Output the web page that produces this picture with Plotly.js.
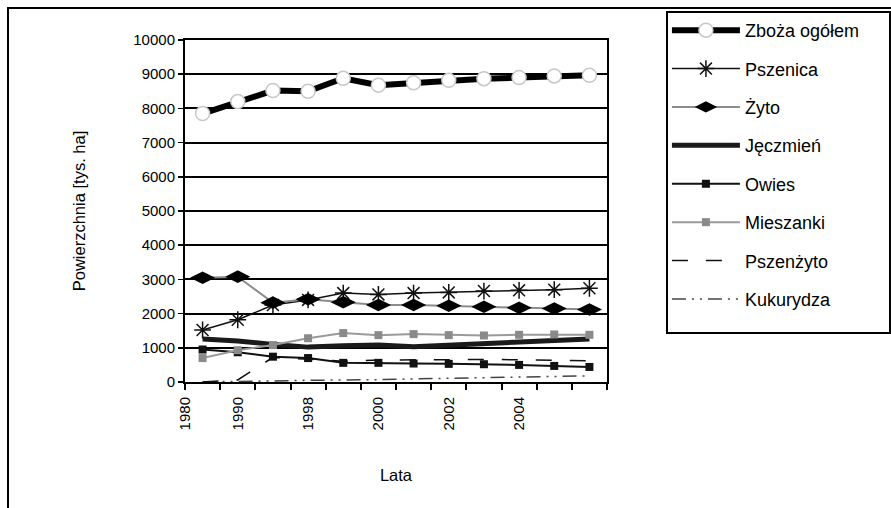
<!DOCTYPE html>
<html>
<head>
<meta charset="utf-8">
<script src="https://cdn.plot.ly/plotly-3.0.1.min.js"></script>
<style>html,body{margin:0;padding:0;background:#fff;}#chart{width:891px;height:508px;}</style>
</head>
<body>
<div id="chart"></div>
<script>
// point positions (category slots along the x axis)
const pointIndex = [1, 2, 3, 4, 5, 6, 7, 8, 9, 10, 11, 12];
// tick labels and the slots they sit at
const tickLabels = ["1980", "1990", "1998", "2000", "2002", "2004"];
const tickAt = [0.5, 2, 4, 6, 8, 10];
const slotEdges = [0.5, 1.5, 2.5, 3.5, 4.5, 5.5, 6.5, 7.5, 8.5, 9.5, 10.5, 11.5, 12.5];

// series values [tys. ha]
const zbozaOgolem = [7850, 8200, 8520, 8500, 8880, 8680, 8750, 8820, 8870, 8900, 8950, 8970];
const pszenica    = [1520, 1820, 2250, 2400, 2600, 2560, 2600, 2620, 2660, 2680, 2700, 2740];
const zyto        = [3050, 3080, 2320, 2420, 2330, 2250, 2250, 2230, 2200, 2170, 2150, 2120];
const jeczmien    = [1260, 1200, 1100, 1020, 1060, 1080, 1030, 1080, 1110, 1150, 1200, 1260];
const owies       = [950, 870, 740, 700, 560, 560, 540, 530, 520, 500, 470, 440];
const mieszanki   = [700, 930, 1080, 1280, 1430, 1370, 1400, 1370, 1360, 1380, 1390, 1380];
const pszenzyto   = [0, 60, 720, 660, 610, 640, 650, 660, 660, 650, 640, 620];
const kukurydza   = [5, 10, 30, 50, 50, 70, 90, 110, 130, 150, 170, 180];

const seriesNames = ["Zboża ogółem", "Pszenica", "Żyto", "Jęczmień", "Owies", "Mieszanki", "Pszenżyto", "Kukurydza"];

const traces = [
  {y: kukurydza, name: seriesNames[7], mode: 'lines', line: {color: '#444', width: 1.5, dash: '14px,6px,2px,6px,2px,6px'}},
  {y: pszenzyto, name: seriesNames[6], mode: 'lines', line: {color: '#111', width: 1.5, dash: '16px,18px'}},
  {y: owies, name: seriesNames[4], mode: 'lines+markers', line: {color: '#111', width: 2}, marker: {symbol: 'square', size: 8, color: '#111'}},
  {y: jeczmien, name: seriesNames[3], mode: 'lines', line: {color: '#1a1a1a', width: 5}},
  {y: mieszanki, name: seriesNames[5], mode: 'lines+markers', line: {color: '#9a9a9a', width: 2}, marker: {symbol: 'square', size: 8, color: '#8a8a8a'}},
  {y: pszenica, name: seriesNames[1], mode: 'lines+markers', line: {color: '#111', width: 1.5}, marker: {symbol: 'asterisk-open', size: 14, line: {color: '#111', width: 1.5}}},
  {y: zyto, name: seriesNames[2], mode: 'lines+markers', line: {color: '#8c8c8c', width: 2}, marker: {symbol: 'diamond-wide', size: 18, color: '#000'}},
  {y: zbozaOgolem, name: seriesNames[0], mode: 'lines+markers', line: {color: '#000', width: 6}, marker: {symbol: 'circle', size: 14, color: '#fff', line: {color: '#c8c8c8', width: 1.5}}}
];
const legendRank = {"Zboża ogółem":1, "Pszenica":2, "Żyto":3, "Jęczmień":4, "Owies":5, "Mieszanki":6, "Pszenżyto":7, "Kukurydza":8};
traces.forEach(t => {
  t.x = pointIndex;
  t.type = 'scatter';
  t.legendgroup = t.name;
  t.legendrank = legendRank[t.name];
});

const font = "'Liberation Sans', Arial, sans-serif";
const layout = {
  width: 891, height: 508,
  margin: {l: 185, r: 284, t: 40, b: 126},
  paper_bgcolor: '#fff', plot_bgcolor: '#fff',
  font: {family: font, color: '#000', size: 15},
  showlegend: true,
  legend: {
    x: 1.142, y: 1.082, xanchor: 'left', yanchor: 'top',
    bgcolor: 'rgba(0,0,0,0)', borderwidth: 0,
    font: {family: font, size: 18, color: '#000'},
    traceorder: 'grouped', tracegroupgap: 12, itemwidth: 68,
    maxheight: 420,
    itemclick: false
  },
  xaxis: {
    range: [0.5, 12.5], tickmode: 'array', tickvals: tickAt, ticktext: tickLabels,
    tickangle: -90, ticks: 'outside', ticklen: 7, tickcolor: 'rgba(0,0,0,0)',
    tickfont: {size: 15},
    minor: {tickmode: 'array', tickvals: slotEdges, ticks: 'outside', ticklen: 6, tickwidth: 2, tickcolor: '#000', showgrid: false},
    showgrid: false, zeroline: false, showline: true, linecolor: '#000', linewidth: 2, mirror: true,
    title: {text: 'Lata', font: {size: 16.5}, standoff: 40}
  },
  yaxis: {
    range: [0, 10000], dtick: 1000, tick0: 0, tickformat: 'd',
    ticks: 'outside', ticklen: 5, tickwidth: 1.5, tickcolor: '#000',
    showgrid: true, gridcolor: '#000', gridwidth: 2,
    zeroline: false, showline: true, linecolor: '#000', linewidth: 2, mirror: true,
    tickfont: {size: 15},
    title: {text: 'Powierzchnia [tys. ha]', font: {size: 16.5}, standoff: 44}
  },
  shapes: [
    {type: 'rect', xref: 'paper', yref: 'paper', x0: -0.4194, x1: 1.70, y0: -0.40, y1: 1.0936, line: {color: '#000', width: 2}, fillcolor: 'rgba(0,0,0,0)', layer: 'below'},
    {type: 'rect', xref: 'paper', yref: 'paper', x0: 1.1422, x1: 1.6706, y0: 0.1433, y1: 1.0819, line: {color: '#000', width: 2}, fillcolor: 'rgba(0,0,0,0)', layer: 'above'}
  ]
};

Plotly.newPlot('chart', traces, layout, {staticPlot: true, displayModeBar: false});
</script>
</body>
</html>
